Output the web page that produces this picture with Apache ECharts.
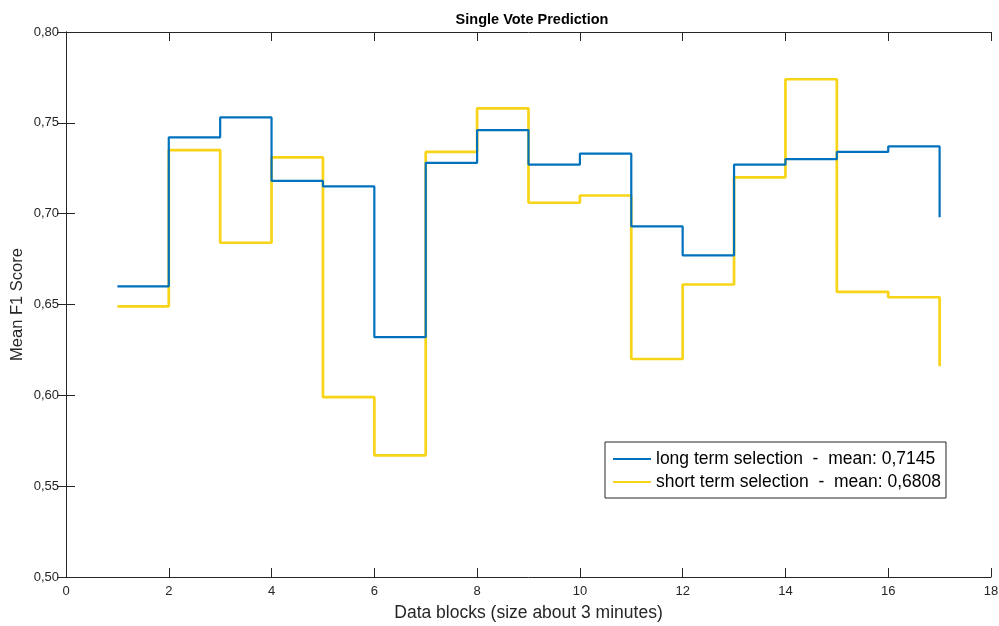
<!DOCTYPE html>
<html>
<head>
<meta charset="utf-8">
<script src="https://cdn.jsdelivr.net/npm/echarts@6/dist/echarts.min.js"></script>
<style>html,body{margin:0;padding:0;background:#fff}#c{width:999px;height:626px}</style>
</head>
<body>
<div id="c"></div>
<script>
const blocks = [1,2,3,4,5,6,7,8,9,10,11,12,13,14,15,16,17];
const longTerm = [0.660,0.742,0.753,0.718,0.715,0.632,0.728,0.746,0.727,0.733,0.693,0.677,0.727,0.730,0.734,0.737,0.698];
const shortTerm = [0.649,0.735,0.684,0.731,0.599,0.567,0.734,0.758,0.706,0.710,0.620,0.661,0.720,0.774,0.657,0.654,0.616];
const longName = 'long term selection  -  mean: 0,7145';
const shortName = 'short term selection  -  mean: 0,6808';
const titleText = 'Single Vote Prediction';
const xName = 'Data blocks (size about 3 minutes)';
const yName = 'Mean F1 Score';

const fmt = v => v.toFixed(2).replace('.', ',');
const FONT = 'Liberation Sans, Arial, sans-serif';
const AX = '#262626';
const BLUE = '#0072BD';
const YELLOW = '#F7D417';

const chart = echarts.init(document.getElementById('c'), null, {renderer:'canvas'});
const axisCommon = {
  axisLine:{show:true, lineStyle:{color:AX, width:1}},
  axisTick:{show:true, inside:true, length:9, lineStyle:{color:AX}},
  splitLine:{show:false}
};
chart.setOption({
  animation:false,
  backgroundColor:'#fff',
  title:{text:titleText, left:527, top:7, textAlign:'center',
    textStyle:{fontFamily:FONT, fontSize:14.5, fontWeight:'bold', color:'#000'}},
  grid:{left:66, right:8, top:32, bottom:49, containLabel:false, outerBoundsMode:'none'},
  legend:{
    orient:'vertical', left:605, top:442, itemWidth:38, itemHeight:12, itemGap:3,
    padding:[7,5,6,7],
    borderColor:'#262626', borderWidth:1, backgroundColor:'#fff',
    itemStyle:{opacity:0},
    textStyle:{fontFamily:FONT, fontSize:17.5, color:'#000', lineHeight:20},
    data:[longName, shortName]
  },
  xAxis:[
    Object.assign({type:'value', min:0, max:18, interval:2, position:'bottom',
      name:xName, nameLocation:'middle', nameGap:27, nameMoveOverlap:false,
      nameTextStyle:{fontFamily:FONT, fontSize:17.5, color:AX},
      axisLabel:{fontFamily:FONT, fontSize:13, color:AX, margin:8}}, axisCommon),
    Object.assign({type:'value', min:0, max:18, interval:2, position:'top',
      axisLabel:{show:false}}, axisCommon)
  ],
  yAxis:[
    Object.assign({type:'value', min:0.5, max:0.8, interval:0.05, position:'left',
      name:yName, nameLocation:'middle', nameGap:40, nameMoveOverlap:false,
      nameTextStyle:{fontFamily:FONT, fontSize:16.5, color:AX},
      axisLabel:{fontFamily:FONT, fontSize:13, color:AX, margin:7, formatter:fmt}}, axisCommon),
    Object.assign({type:'value', min:0.5, max:0.8, interval:0.05, position:'right',
      axisLabel:{show:false}}, axisCommon)
  ],
  series:[
    {name:longName, type:'line', step:'end', symbol:'none',
      data:blocks.map((x,i)=>[x,longTerm[i]]),
      lineStyle:{color:BLUE, width:2.2}, itemStyle:{color:BLUE}, z:3},
    {name:shortName, type:'line', step:'end', symbol:'none',
      data:blocks.map((x,i)=>[x,shortTerm[i]]),
      lineStyle:{color:YELLOW, width:2.7}, itemStyle:{color:YELLOW}, z:2}
  ]
});
</script>
</body>
</html>
